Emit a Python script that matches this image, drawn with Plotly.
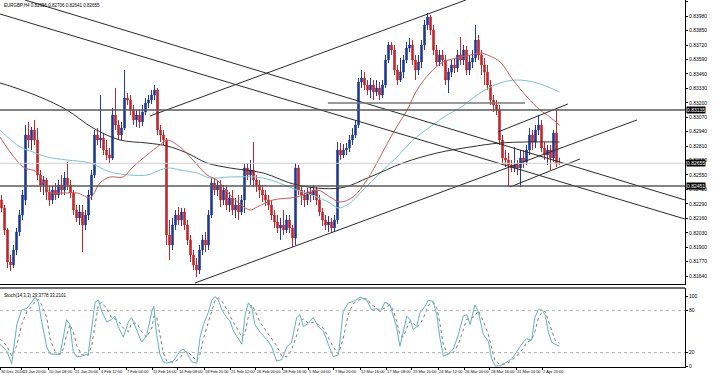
import plotly.graph_objects as go

title_text = "EURGBP,H4 0.82656 0.82706 0.82641 0.82655"
stoch_text = "Stoch(14,3,3) 29.3778 33.2101"

opens = [0.82325,0.82253,0.82055,0.81767,0.81740,0.81875,0.82037,0.82190,0.82325,0.82910,
0.82865,0.82955,0.82865,0.82550,0.82460,0.82505,0.82397,0.82325,0.82415,0.82370,
0.82460,0.82415,0.82523,0.82460,0.82388,0.82235,0.82163,0.82217,0.82100,0.82190,
0.82370,0.82550,0.82910,0.82865,0.82883,0.82775,0.82730,0.82703,0.83090,0.83000,
0.82910,0.82973,0.83243,0.83225,0.83135,0.83045,0.83090,0.83027,0.83117,0.83198,
0.83225,0.83270,0.83315,0.82955,0.82910,0.82865,0.82010,0.81920,0.82100,0.82190,
0.82145,0.82217,0.82100,0.81965,0.81830,0.81740,0.81695,0.81875,0.81965,0.81920,
0.82190,0.82478,0.82415,0.82460,0.82325,0.82415,0.82280,0.82343,0.82235,0.82280,
0.82217,0.82325,0.82613,0.82550,0.82595,0.82505,0.82460,0.82415,0.82370,0.82325,
0.82280,0.82190,0.82127,0.82073,0.82100,0.82055,0.82145,0.82073,0.81983,0.82613,
0.82415,0.82370,0.82325,0.82397,0.82370,0.82415,0.82325,0.82217,0.82145,0.82100,
0.82127,0.82073,0.82145,0.82775,0.82730,0.82775,0.82793,0.82865,0.82910,0.83000,
0.83387,0.83423,0.83360,0.83315,0.83360,0.83297,0.83333,0.83270,0.83360,0.83585,
0.83720,0.83675,0.83495,0.83405,0.83477,0.83585,0.83693,0.83720,0.83585,0.83495,
0.83567,0.83720,0.83900,0.83972,0.83855,0.83675,0.83567,0.83630,0.83585,0.83405,
0.83477,0.83540,0.83513,0.83630,0.83585,0.83675,0.83495,0.83567,0.83603,0.83765,
0.83630,0.83540,0.83477,0.83360,0.83225,0.83180,0.83135,0.82865,0.82703,0.82685,
0.82640,0.82613,0.82640,0.82613,0.82703,0.82667,0.82775,0.82910,0.82847,0.82955,
0.83000,0.82793,0.82730,0.82775,0.82703,0.82928,0.82656]

highs = [0.82370,0.82280,0.82073,0.81830,0.81920,0.82073,0.82235,0.82415,0.83000,0.83027,
0.82982,0.83045,0.82973,0.82595,0.82541,0.82523,0.82451,0.82451,0.82478,0.82505,
0.82550,0.82577,0.82667,0.82505,0.82415,0.82280,0.82280,0.82280,0.82235,0.82415,
0.82595,0.82955,0.82973,0.83270,0.82928,0.82865,0.82793,0.83153,0.83333,0.83045,
0.83027,0.83495,0.83288,0.83270,0.83180,0.83135,0.83135,0.83180,0.83243,0.83270,
0.83315,0.83360,0.83333,0.83000,0.82955,0.82883,0.82145,0.82163,0.82235,0.82262,
0.82253,0.82253,0.82145,0.82010,0.81875,0.81803,0.81920,0.82010,0.82037,0.82235,
0.82523,0.82523,0.82505,0.82505,0.82460,0.82460,0.82397,0.82415,0.82343,0.82370,
0.82370,0.82658,0.82658,0.82685,0.82847,0.82550,0.82505,0.82460,0.82415,0.82370,
0.82325,0.82235,0.82190,0.82163,0.82235,0.82190,0.82190,0.82100,0.82658,0.82640,
0.82460,0.82415,0.82433,0.82442,0.82460,0.82442,0.82370,0.82253,0.82190,0.82181,
0.82163,0.82190,0.82847,0.82838,0.82829,0.82838,0.82910,0.82973,0.83045,0.83423,
0.83495,0.83477,0.83405,0.83423,0.83405,0.83405,0.83387,0.83405,0.83630,0.83747,
0.83747,0.83720,0.83540,0.83603,0.83630,0.83747,0.83783,0.83765,0.83630,0.83630,
0.83765,0.83945,0.84008,0.83990,0.83900,0.83720,0.83675,0.83675,0.83630,0.83513,
0.83585,0.83603,0.83675,0.83792,0.83720,0.83711,0.83630,0.83675,0.83900,0.83810,
0.83675,0.83603,0.83540,0.83405,0.83270,0.83225,0.83180,0.82910,0.82775,0.82748,
0.82685,0.82802,0.82685,0.82775,0.82775,0.82820,0.82973,0.82955,0.83000,0.83090,
0.83045,0.82847,0.82820,0.82820,0.82955,0.83135,0.82706]

lows = [0.82217,0.82010,0.81713,0.81686,0.81713,0.81830,0.82001,0.82145,0.82280,0.82793,
0.82775,0.82820,0.82505,0.82397,0.82370,0.82325,0.82271,0.82289,0.82325,0.82343,
0.82370,0.82370,0.82415,0.82343,0.82190,0.82127,0.82100,0.81857,0.82055,0.82145,
0.82325,0.82523,0.82820,0.82793,0.82730,0.82685,0.82658,0.82685,0.82955,0.82865,
0.82865,0.82955,0.83180,0.83090,0.83000,0.82982,0.82973,0.82991,0.83090,0.83153,
0.83189,0.83225,0.82910,0.82847,0.82820,0.81920,0.81785,0.81875,0.82055,0.82100,
0.82091,0.82055,0.81920,0.81767,0.81695,0.81632,0.81659,0.81830,0.81857,0.81875,
0.82163,0.82370,0.82361,0.82262,0.82280,0.82235,0.82217,0.82190,0.82163,0.82145,
0.82190,0.82208,0.82505,0.82460,0.82442,0.82397,0.82343,0.82307,0.82271,0.82235,
0.82145,0.82073,0.82028,0.81965,0.82010,0.82028,0.82028,0.81902,0.81920,0.82370,
0.82280,0.82262,0.82280,0.82307,0.82325,0.82280,0.82181,0.82091,0.82055,0.82037,
0.82028,0.82037,0.82109,0.82685,0.82703,0.82730,0.82757,0.82820,0.82883,0.82973,
0.83333,0.83315,0.83270,0.83243,0.83225,0.83261,0.83225,0.83243,0.83333,0.83558,
0.83630,0.83450,0.83360,0.83387,0.83423,0.83558,0.83657,0.83540,0.83405,0.83450,
0.83513,0.83675,0.83855,0.83810,0.83630,0.83531,0.83531,0.83531,0.83360,0.83288,
0.83432,0.83468,0.83477,0.83540,0.83540,0.83450,0.83450,0.83513,0.83567,0.83585,
0.83450,0.83360,0.83315,0.83180,0.83117,0.83090,0.82820,0.82658,0.82622,0.82442,
0.82577,0.82577,0.82550,0.82442,0.82613,0.82640,0.82730,0.82775,0.82793,0.82910,
0.82757,0.82685,0.82640,0.82595,0.82667,0.82622,0.82641]

closes = [0.82253,0.82055,0.81767,0.81740,0.81875,0.82037,0.82190,0.82370,0.82910,0.82865,
0.82955,0.82865,0.82550,0.82460,0.82505,0.82397,0.82325,0.82415,0.82370,0.82460,
0.82415,0.82523,0.82460,0.82388,0.82235,0.82163,0.82217,0.82100,0.82190,0.82370,
0.82550,0.82910,0.82865,0.82883,0.82775,0.82730,0.82703,0.83090,0.83000,0.82910,
0.82973,0.83243,0.83225,0.83135,0.83045,0.83090,0.83027,0.83117,0.83198,0.83225,
0.83270,0.83315,0.82955,0.82910,0.82865,0.82010,0.81920,0.82100,0.82190,0.82145,
0.82217,0.82100,0.81965,0.81830,0.81740,0.81695,0.81875,0.81965,0.81920,0.82190,
0.82478,0.82415,0.82460,0.82325,0.82415,0.82280,0.82343,0.82235,0.82280,0.82217,
0.82325,0.82613,0.82550,0.82595,0.82505,0.82460,0.82415,0.82370,0.82325,0.82280,
0.82190,0.82127,0.82073,0.82100,0.82055,0.82145,0.82073,0.81983,0.82613,0.82415,
0.82370,0.82325,0.82397,0.82370,0.82415,0.82325,0.82217,0.82145,0.82100,0.82127,
0.82073,0.82145,0.82775,0.82730,0.82775,0.82793,0.82865,0.82910,0.83000,0.83387,
0.83423,0.83360,0.83315,0.83360,0.83297,0.83333,0.83270,0.83360,0.83585,0.83720,
0.83675,0.83495,0.83405,0.83477,0.83585,0.83693,0.83720,0.83585,0.83495,0.83567,
0.83720,0.83900,0.83972,0.83855,0.83675,0.83567,0.83630,0.83585,0.83405,0.83477,
0.83540,0.83513,0.83630,0.83585,0.83675,0.83495,0.83567,0.83603,0.83765,0.83630,
0.83540,0.83477,0.83360,0.83225,0.83180,0.83135,0.82865,0.82703,0.82685,0.82640,
0.82613,0.82640,0.82613,0.82703,0.82667,0.82775,0.82910,0.82847,0.82955,0.83000,
0.82793,0.82730,0.82775,0.82703,0.82928,0.82656,0.82655]

bars = list(range(len(closes)))

# moving averages (at sample bars)
ma_red_x = [-0.5,7.2,11.8,16.2,20.5,25.2,29.5,30.5,32.8,36.2,40.5,43.8,48.5,52.8,55.2,59.5,63.8,68.5,71.8,76.2,82.8,85.2,90.5,98.5,105.2,109.5,112.8,117.2,121.8,126.2,130.5,135.2,138.5,142.8,147.2,151.8,156.2,159.5,162.8,166.2,170.5,175.2,179.5,182.8,186]
ma_red_y = [0.82892,0.82622,0.82577,0.82397,0.82388,0.82388,0.82343,0.82370,0.82478,0.82532,0.82532,0.82622,0.82730,0.82820,0.82865,0.82802,0.82685,0.82550,0.82505,0.82370,0.82235,0.82262,0.82325,0.82352,0.82415,0.82352,0.82307,0.82352,0.82505,0.82712,0.82928,0.83135,0.83315,0.83468,0.83567,0.83603,0.83630,0.83648,0.83621,0.83567,0.83405,0.83252,0.83135,0.83072,0.83000]
ma_teal_x = [-0.5,6.2,10.5,15.2,21.8,29.5,36.2,42.8,48.5,55.2,59.5,65.2,69.5,76.2,87.2,98.5,105.2,109.5,112.2,116.2,120.5,126.2,131.8,137.2,142.8,148.5,152.8,159.5,166.2,171.8,178.5,186]
ma_teal_y = [0.82955,0.82802,0.82757,0.82712,0.82685,0.82658,0.82577,0.82550,0.82550,0.82613,0.82595,0.82568,0.82523,0.82532,0.82523,0.82415,0.82352,0.82298,0.82253,0.82298,0.82415,0.82568,0.82712,0.82865,0.82982,0.83090,0.83153,0.83288,0.83378,0.83405,0.83378,0.83297]
ma_dark_x = [-0.5,3.8,12.8,21.8,30.5,39.5,48.5,55.2,61.8,68.5,76.2,87.2,98.5,112.8,122.8,133.8,145.2,156.2,166.2,175.2,186]
ma_dark_y = [0.83378,0.83342,0.83252,0.83135,0.82973,0.82865,0.82838,0.82811,0.82748,0.82658,0.82613,0.82568,0.82460,0.82433,0.82532,0.82658,0.82748,0.82802,0.82838,0.82847,0.82847]

# drawn objects: trendlines (bar, price) pairs
trend_x0 = [7.8, -0.5, 49.5, 64.5, 165.5, 169.5]
trend_y0 = [0.84125, 0.83999, 0.83081, 0.81578, 0.82937, 0.82442]
trend_x1 = [227.8, 227.8, 154.8, 211.8, 188.8, 192.8]
trend_y1 = [0.82325, 0.82154, 0.84125, 0.83045, 0.83189, 0.82694]
hlines = [0.83135, 0.82451]
short_h_x = [108.8, 174.5]
short_h_y = 0.83198
current_price = 0.82655

# stochastic main / signal
st_x = [-0.5,1.7,3.4,5.1,6.7,8.4,10.1,11.2,12.3,13.4,15.1,16.2,17.8,19.5,20.6,21.7,22.8,23.9,25.1,26.7,28.9,30.1,31.2,32.3,33.4,35.1,36.7,37.8,38.9,40.6,42.3,43.4,45.1,46.7,48.4,50.1,50.8,51.7,52.8,53.9,55.1,57.3,59.5,60.6,61.7,63.4,65.1,66.2,67.3,68.9,70.1,71.2,72.3,73.4,75.1,76.2,77.3,78.9,80.1,81.2,82.3,83.4,84.5,86.2,88.4,90.1,91.7,93.4,95.1,96.7,98.4,99.5,100.6,102.3,103.9,105.6,107.3,108.9,110.6,112.3,113.9,115.6,117.3,119.5,121.7,123.4,125.1,126.2,127.8,129.5,130.6,131.7,132.8,133.9,135.1,136.2,137.3,138.4,139.5,141.2,142.3,143.9,145.1,146.2,147.3,148.9,150.6,152.3,153.9,155.1,156.2,157.8,158.9,160.6,162.3,163.4,164.5,166.2,168.4,170.1,171.7,173.9,175.1,176.7,177.8,178.9,180.1,181.2,182.3,183.4,184.5,186]
st_main = [32,23,4,60,81,83,92,99,92,64,28,18,18,17,42,67,60,22,14,15,18,60,92,95,79,64,67,72,57,42,64,70,51,35,44,79,86,46,18,7,5,8,22,25,20,7,5,42,60,77,95,100,95,81,70,65,51,39,32,74,91,85,60,49,39,28,8,10,28,35,70,74,57,62,70,57,51,32,14,17,79,91,93,99,95,81,83,78,92,88,72,56,29,51,72,67,53,57,77,86,95,93,74,39,15,18,25,46,72,74,60,88,79,46,36,11,1,1,7,11,21,35,40,38,70,81,81,74,49,35,32,29.4]
st_sig = [40,30,15,30,60,78,86,93,96,88,70,40,22,18,25,45,60,50,30,17,16,30,60,88,92,82,70,68,66,55,50,62,62,50,42,55,72,72,45,20,8,6,12,20,22,16,8,18,40,62,80,95,98,94,82,72,63,52,42,48,72,88,80,63,50,40,30,15,14,24,45,65,68,62,63,60,55,42,28,18,40,75,90,96,97,88,84,80,84,88,80,65,45,42,55,65,62,56,60,75,88,92,84,60,30,18,20,32,52,68,68,72,80,65,45,25,8,3,4,9,15,26,35,38,50,68,78,79,66,50,38,33.2]

x_tick_bars = [-0.5,6.8,15.5,24.2,32.8,41.5,50.2,58.8,67.5,76.2,84.8,93.5,102.2,110.8,119.5,128.2,136.8,145.5,154.2,162.8,171.5,180.2]
x_tick_text = ["30 Dec 2014","13 Jan 20:00","20 Jan 08:00","21 Jan 20:00","4 Feb 12:00","7 Feb 04:00","11 Feb 16:00","14 Feb 08:00","18 Feb 20:00","21 Feb 12:00","26 Feb 00:00","28 Feb 16:00","5 Mar 04:00","7 Mar 20:00","12 Mar 16:00","17 Mar 08:00","19 Mar 20:00","24 Mar 12:00","26 Mar 00:00","28 Mar 16:00","31 Mar 04:00","2 Apr 20:00"]

price_ticks = [round(0.8164 + 0.0013 * k, 5) for k in range(20)]

FONT = "Liberation Sans"
X_RANGE = [-0.5, 227.83]
Y_RANGE = [0.81569, 0.84125]

fig = go.Figure()

fig.add_trace(go.Scatter(x=ma_teal_x, y=ma_teal_y, mode="lines", line=dict(color="#7cc3c8", width=1, shape="spline"), hoverinfo="skip", xaxis="x", yaxis="y"))
fig.add_trace(go.Scatter(x=ma_dark_x, y=ma_dark_y, mode="lines", line=dict(color="#303030", width=1, shape="spline"), hoverinfo="skip", xaxis="x", yaxis="y"))
fig.add_trace(go.Scatter(x=ma_red_x, y=ma_red_y, mode="lines", line=dict(color="#c0615c", width=1, shape="spline"), hoverinfo="skip", xaxis="x", yaxis="y"))

fig.add_trace(go.Candlestick(
    x=bars, open=opens, high=highs, low=lows, close=closes,
    increasing=dict(line=dict(color="#1f3b96", width=1), fillcolor="#1f3b96"),
    decreasing=dict(line=dict(color="#c3272b", width=1), fillcolor="#c3272b"),
    whiskerwidth=0, xaxis="x", yaxis="y", hoverinfo="skip"))

fig.add_trace(go.Scatter(x=st_x, y=st_sig, mode="lines", line=dict(color="#7a7a7a", width=1, dash="dot"), hoverinfo="skip", xaxis="x2", yaxis="y2"))
fig.add_trace(go.Scatter(x=st_x, y=st_main, mode="lines", line=dict(color="#62b3b3", width=1), hoverinfo="skip", xaxis="x2", yaxis="y2"))

shapes = []
for x0, y0, x1, y1 in zip(trend_x0, trend_y0, trend_x1, trend_y1):
    shapes.append(dict(type="line", xref="x", yref="y", x0=x0, y0=y0, x1=x1, y1=y1, line=dict(color="#2a2a2a", width=1)))
for h in hlines:
    shapes.append(dict(type="line", xref="paper", yref="y", x0=0, x1=1, y0=h, y1=h, line=dict(color="#5a5a5a", width=1.3)))
shapes.append(dict(type="line", xref="x", yref="y", x0=short_h_x[0], x1=short_h_x[1], y0=short_h_y, y1=short_h_y, line=dict(color="#777777", width=1.5)))
shapes.append(dict(type="line", xref="paper", yref="y", x0=0, x1=1, y0=current_price, y1=current_price, line=dict(color="#cfcfcf", width=1)))
for lv in [80, 20]:
    shapes.append(dict(type="line", xref="paper", yref="y2", x0=0, x1=1, y0=lv, y1=lv, line=dict(color="#b0b0b0", width=1, dash="dot")))
shapes.append(dict(type="line", xref="paper", yref="paper", x0=0, x1=1, y0=0.2153, y1=0.2153, line=dict(color="#6e6e6e", width=2)))

annotations = [
    dict(text=title_text, xref="paper", yref="paper", x=0.003, y=0.997, xanchor="left", yanchor="top", showarrow=False, font=dict(family=FONT, size=4.5, color="#000")),
    dict(text=stoch_text, xref="paper", yref="paper", x=0.003, y=0.207, xanchor="left", yanchor="top", showarrow=False, font=dict(family=FONT, size=4.5, color="#000")),
]
for v in hlines + [current_price]:
    annotations.append(dict(text="%.5f" % v, xref="paper", yref="y", x=1.0, y=v, xanchor="left", yanchor="middle", showarrow=False, bgcolor="#000", font=dict(family=FONT, size=5, color="#fff"), borderpad=0, xshift=1))

fig.update_layout(
    width=720, height=375, margin=dict(l=0, r=35, t=0, b=8),
    paper_bgcolor="white", plot_bgcolor="white", showlegend=False,
    shapes=shapes, annotations=annotations,
    xaxis=dict(domain=[0, 1], range=X_RANGE, anchor="y", showgrid=False, zeroline=False, showticklabels=False, showline=True, linecolor="#000", linewidth=1, rangeslider=dict(visible=False)),
    yaxis=dict(domain=[0.2262, 1], range=Y_RANGE, side="right", showgrid=False, zeroline=False, tickvals=price_ticks, ticktext=["%.5f" % v for v in price_ticks], ticks="outside", ticklen=2, tickcolor="#000", showline=True, linecolor="#000", linewidth=1, tickfont=dict(family=FONT, size=5, color="#000")),
    xaxis2=dict(domain=[0, 1], range=X_RANGE, anchor="y2", showgrid=False, zeroline=False, tickvals=x_tick_bars, ticktext=x_tick_text, ticks="outside", ticklen=2, tickcolor="#000", tickangle=0, ticklabelposition="outside right", showline=True, linecolor="#000", linewidth=1, tickfont=dict(family=FONT, size=4, color="#000")),
    yaxis2=dict(domain=[0, 0.2153], range=[-0.5, 112.2], side="right", showgrid=False, zeroline=False, tickvals=[0, 20, 80, 100], ticktext=["0", "20", "80", "100"], ticks="outside", ticklen=2, tickcolor="#000", showline=True, linecolor="#000", linewidth=1, tickfont=dict(family=FONT, size=5, color="#000")),
)

fig.write_html("out.html")
